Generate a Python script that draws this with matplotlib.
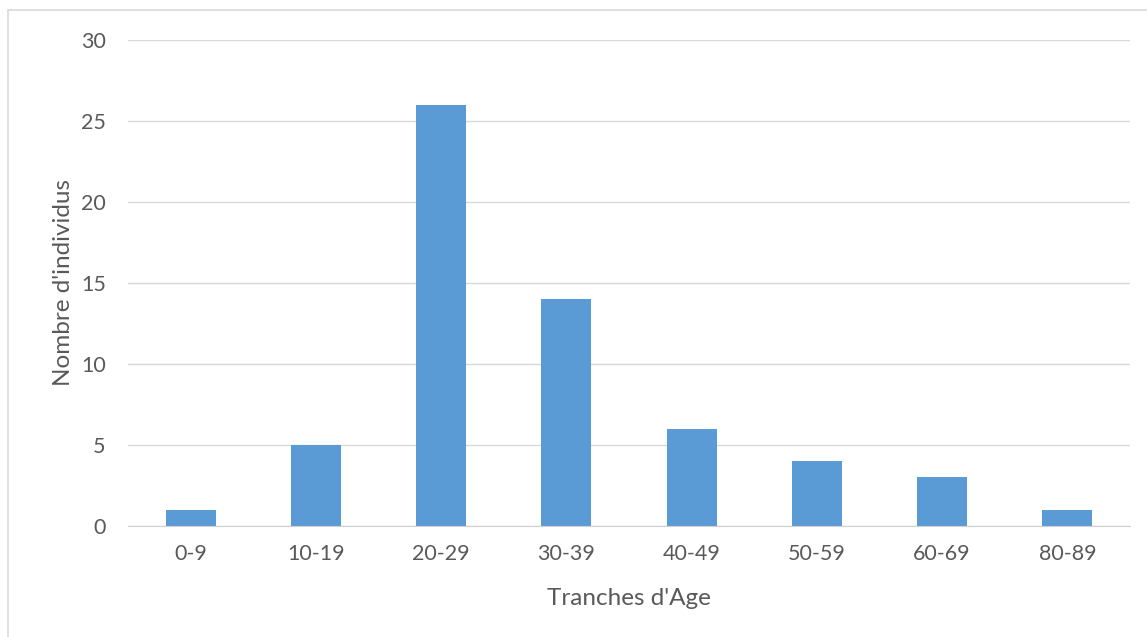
import matplotlib.pyplot as plt
from matplotlib.patches import Rectangle

tranches = ["0-9", "10-19", "20-29", "30-39", "40-49", "50-59", "60-69", "80-89"]
individus = [1, 5, 26, 14, 6, 4, 3, 1]

plt.rcParams['font.family'] = ['Lato', 'DejaVu Sans']
txt = '#595959'

fig = plt.figure(figsize=(11.47, 6.37), dpi=100)
ax = fig.add_axes([128/1147, 1 - 526/637, (1130 - 128)/1147, (526 - 40)/637])

ax.bar(range(len(tranches)), individus, width=0.4, color='#5B9BD5', zorder=3)
ax.set_xlim(-0.5, len(tranches) - 0.5)
ax.set_ylim(0, 30)
ax.set_yticks(range(0, 31, 5))
ax.set_xticks(range(len(tranches)))
ax.set_xticklabels(tranches)

ax.grid(axis='y', color='#D9D9D9', linewidth=1, zorder=0)
for s in ['top', 'right', 'left']:
    ax.spines[s].set_visible(False)
ax.spines['bottom'].set_color('#D0D0D0')
ax.spines['bottom'].set_zorder(4)
ax.tick_params(length=0, labelsize=15.5, colors=txt)
ax.tick_params(axis='y', pad=16)
ax.tick_params(axis='x', pad=13)

ax.set_xlabel("Tranches d'Age", fontsize=17.5, color=txt, labelpad=17)
ax.set_ylabel("Nombre d'individus", fontsize=17.5, color=txt, labelpad=5)

fig.patches.append(Rectangle((8/1147, -0.1), 1.2, 1 - 10/637 + 0.1, transform=fig.transFigure,
                             fill=False, edgecolor='#D9D9D9', linewidth=1.2))

fig.savefig('out.png', dpi=100)
